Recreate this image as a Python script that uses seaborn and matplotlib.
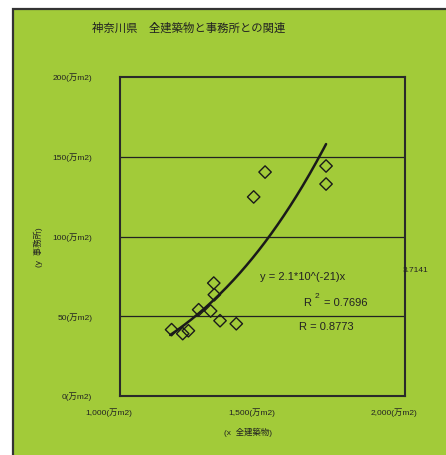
import numpy as np
import pandas as pd
import seaborn as sns
import matplotlib.pyplot as plt
from matplotlib.patches import Rectangle
from matplotlib.transforms import ScaledTranslation

# data (万m2)
total_bldg = [1181, 1220, 1240, 1276, 1318, 1329, 1331, 1351, 1408, 1469, 1509, 1723, 1723]
office = [41.6, 39.1, 40.9, 54.1, 53.3, 70.8, 63.5, 47.2, 45.3, 124.8, 140.4, 144.2, 132.9]
coef_a = 2.1e-21
coef_b = 3.7141
y_ticks = [0, 50, 100, 150, 200]
y_labels = ["0(万m2)", "50(万m2)", "100(万m2)", "150(万m2)", "200(万m2)"]
x_ticks = [1000, 1500, 2000]
x_labels = ["1,000(万m2)", "1,500(万m2)", "2,000(万m2)"]

green = "#a2cb39"
sns.set_theme(style="white")
plt.rcParams["font.family"] = ["Liberation Sans", "Noto Sans CJK JP"]

fig = plt.figure(figsize=(4.46, 4.55), dpi=100)
fig.patch.set_facecolor("white")
# green chart area with dark border on top/left
fig.patches.append(Rectangle((13 / 446, -0.05), 1.1, 1 - 9 / 455 + 0.05,
                             transform=fig.transFigure, facecolor=green,
                             edgecolor="#333333", linewidth=1.6, zorder=-10))

ax = fig.add_axes([120 / 446, 59 / 455, 285 / 446, 319 / 455])
ax.set_facecolor(green)

df = pd.DataFrame({"x": total_bldg, "y": office})
sns.scatterplot(data=df, x="x", y="y", marker="D", s=40, facecolor="none",
                edgecolor="#1a1a1a", linewidth=1.0, ax=ax, zorder=4)

# power trend line (x converted to m2, y back to 万m2)
xs = np.linspace(min(total_bldg) - 5, max(total_bldg), 200)
ys = coef_a * (xs * 1e4) ** coef_b / 1e4
sns.lineplot(x=xs, y=ys, color="#1a1a1a", linewidth=1.8, ax=ax, zorder=5)

ax.set_xlim(1000, 2000)
ax.set_ylim(0, 200)
for v in y_ticks[1:-1]:
    ax.axhline(v, color="#222222", linewidth=0.9, zorder=1)

for s in ax.spines.values():
    s.set_color("#2a2a2a")
    s.set_linewidth(1.5)

ax.set_yticks(y_ticks)
ax.set_yticklabels(y_labels, fontsize=6, color="#222222")
ax.tick_params(axis="y", length=0, pad=20)
ax.set_xticks(x_ticks)
ax.set_xticklabels(x_labels, fontsize=6, color="#222222")
ax.tick_params(axis="x", direction="in", length=3, width=1, color="#2a2a2a", pad=9)
for lab in ax.get_xticklabels():
    lab.set_transform(lab.get_transform() + ScaledTranslation(-0.11, 0, fig.dpi_scale_trans))

ax.set_xlabel("")
ax.set_ylabel("")

def px(x, y):
    return x / 446, 1 - y / 455

fig.text(*px(92, 28), "神奈川県　全建築物と事務所との関連", fontsize=8.2, color="#222222", va="center")
fig.text(*px(248, 432), "(x  全建築物)", fontsize=6, color="#222222", ha="center", va="center")
fig.text(*px(38, 247), "(y  事務所)", fontsize=6, color="#222222", ha="center", va="center", rotation=90)

fig.text(*px(260, 277), "y = 2.1*10^(-21)x", fontsize=8, color="#222222", va="center")
fig.text(*px(403, 271), "3.7141", fontsize=6, color="#222222", va="center")
fig.text(*px(303, 303), "R", fontsize=8, color="#222222", va="center")
fig.text(*px(315, 297), "2", fontsize=6, color="#222222", va="center")
fig.text(*px(324, 303), "= 0.7696", fontsize=8, color="#222222", va="center")
fig.text(*px(299, 327), "R = 0.8773", fontsize=8, color="#222222", va="center")

fig.savefig("out.png", dpi=100, facecolor=fig.get_facecolor())
